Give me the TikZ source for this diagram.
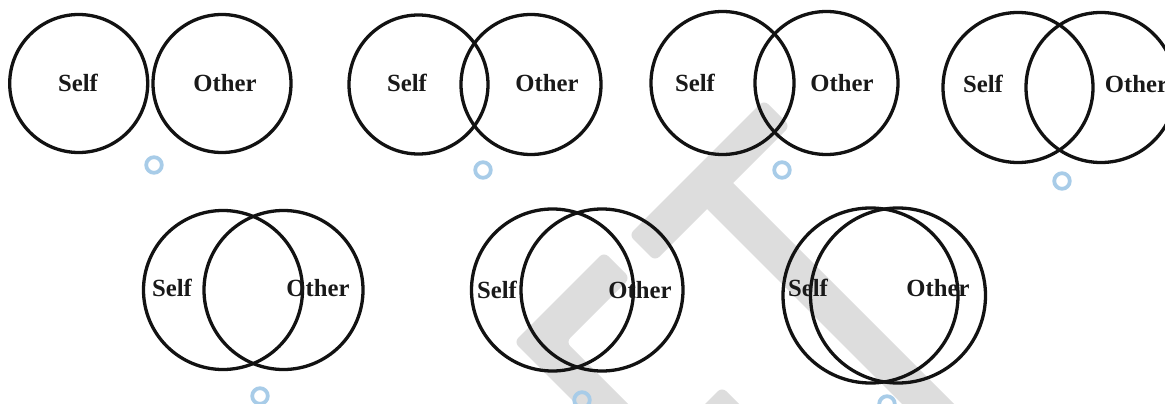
\documentclass[tikz,border=0pt]{standalone}
\usepackage{fontspec}
\setmainfont{Liberation Serif}
\definecolor{ringblue}{RGB}{168,204,232}
\definecolor{wmgrey}{RGB}{221,221,221}
\tikzset{
  venn/.style={circle, draw=black!93, line width=3.3pt, inner sep=0pt, outer sep=0pt},
  lbl/.style={font=\fontsize{24.7}{28}\selectfont\bfseries, text=black!90, inner sep=0pt},
  radio/.style={circle, draw=ringblue, line width=3.8pt, minimum size=15.6pt, inner sep=0pt},
  wm/.style={fill=wmgrey, draw=none, rounded corners=6pt}
}
\begin{document}
\begin{tikzpicture}[x=1pt,y=-1pt]
\useasboundingbox (0,0) rectangle (1165,404);
\clip (0,0) rectangle (1165,404);
% watermark
\fill[wm] (764,100) -- (790,126) -- (655,261) -- (629,235) -- cycle;
\fill[wm] (720,170) -- (977,427) -- (951,453) -- (694,196) -- cycle;
\fill[wm] (604,252) -- (630,278) -- (566,342) -- (646,422) -- (594,422) -- (514,342) -- cycle;
\fill[wm] (722,387) -- (748,413) -- (720,441) -- (694,415) -- cycle;
% pair 1
\node[venn, minimum size=138pt] (s1) at (78.7,83.5) {};
\node[venn, minimum size=138pt] (o1) at (222,83.5) {};
\node[lbl] (ls1) at (78,83) {Self};
\node[lbl] (lo1) at (225,83) {Other};
\node[radio] (r1) at (154,165) {};
% pair 2
\node[venn, minimum size=139pt] (s2) at (418.5,84.5) {};
\node[venn, minimum size=140pt] (o2) at (531,84.5) {};
\node[lbl] (ls2) at (407,83) {Self};
\node[lbl] (lo2) at (547,83) {Other};
\node[radio] (r2) at (483,170) {};
% pair 3
\node[venn, minimum size=143pt] (s3) at (722.5,83) {};
\node[venn, minimum size=143pt] (o3) at (826.5,83) {};
\node[lbl] (ls3) at (695,83) {Self};
\node[lbl] (lo3) at (842,83) {Other};
\node[radio] (r3) at (782,170) {};
% pair 4
\node[venn, minimum size=150pt] (s4) at (1018,87.5) {};
\node[venn, minimum size=150pt] (o4) at (1101,87.5) {};
\node[lbl] (ls4) at (983,84) {Self};
\node[lbl] (lo4) at (1136.5,84) {Other};
\node[radio] (r4) at (1062,181) {};
% pair 5
\node[venn, minimum size=159pt] (s5) at (223,290) {};
\node[venn, minimum size=159pt] (o5) at (283.5,290) {};
\node[lbl] (ls5) at (172,288) {Self};
\node[lbl] (lo5) at (318,288) {Other};
\node[radio] (r5) at (260,396) {};
% pair 6
\node[venn, minimum size=162pt] (s6) at (552.5,290) {};
\node[venn, minimum size=162pt] (o6) at (602,290) {};
\node[lbl] (ls6) at (497,290) {Self};
\node[lbl] (lo6) at (640,290) {Other};
\node[radio] (r6) at (582,400) {};
% pair 7
\node[venn, minimum size=175pt] (s7) at (870.5,295.5) {};
\node[venn, minimum size=175pt] (o7) at (898,295.5) {};
\node[lbl] (ls7) at (808,288) {Self};
\node[lbl] (lo7) at (938,288) {Other};
\node[radio] (r7) at (887,404) {};
\end{tikzpicture}
\end{document}
